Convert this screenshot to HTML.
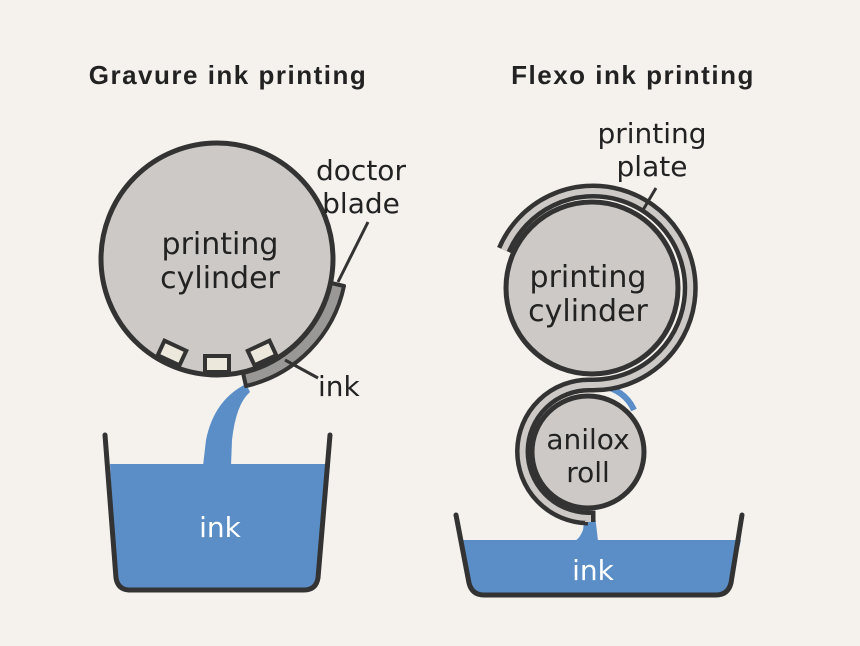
<!DOCTYPE html>
<html><head><meta charset="utf-8"><style>
html,body{margin:0;padding:0;background:#f5f2ee;}
svg{display:block;}
text{font-family:"DejaVu Sans","Liberation Sans",sans-serif;fill:#222;}
text.t{font-family:"Liberation Sans",sans-serif;font-weight:bold;}
</style></head><body>
<svg width="860" height="646" viewBox="0 0 860 646" xmlns="http://www.w3.org/2000/svg">
<rect width="860" height="646" fill="#f5f2ee"/>
<text class="t" x="228" y="84" text-anchor="middle" font-size="26" letter-spacing="1.5">Gravure ink printing</text>
<text class="t" x="633" y="84" text-anchor="middle" font-size="26" letter-spacing="1.5">Flexo ink printing</text>

<!-- left tank -->
<path d="M110 464 L330 464 L318 578 Q316 590 304 590 L128 590 Q118 590 116 578 Z" fill="#5b8ec7"/>
<path d="M246 384 Q214 400 206 440 L203 466 L231 466 L232 440 Q236 404 250 392 Z" fill="#5b8ec7"/>
<path d="M105 435 L116 578 Q118 590 130 590 L304 590 Q316 590 318 578 L330 435" fill="none" stroke="#333" stroke-width="5" stroke-linecap="round"/>
<text x="220" y="537" text-anchor="middle" font-size="28" style="fill:#fff">ink</text>

<!-- left cylinder -->
<circle cx="217" cy="259" r="116" fill="#ccc9c6" stroke="#333" stroke-width="5"/>
<g fill="#ede8dc" stroke="#333" stroke-width="4">
<rect x="160" y="345" width="24" height="16" transform="rotate(25 172 353)"/>
<rect x="205" y="356" width="24" height="16"/>
<rect x="250" y="345" width="24" height="16" transform="rotate(-25 262 353)"/>
</g>
<path d="M344 286 A130 130 0 0 1 246 386 L243 373 A117 117 0 0 0 331 283 Z" fill="#999896" stroke="#333" stroke-width="4" stroke-linejoin="round"/>
<text x="220" y="254" text-anchor="middle" font-size="30">printing</text>
<text x="220" y="288" text-anchor="middle" font-size="30">cylinder</text>
<text x="361" y="180" text-anchor="middle" font-size="28">doctor</text>
<text x="361" y="213" text-anchor="middle" font-size="28">blade</text>
<line x1="368" y1="222" x2="338" y2="282" stroke="#333" stroke-width="3"/>
<line x1="285" y1="360" x2="318" y2="378" stroke="#333" stroke-width="3"/>
<text x="318" y="396" font-size="28">ink</text>

<!-- right tank -->
<path d="M459 540 L741 540 L731 583 Q728 595 716 595 L484 595 Q472 595 469 583 Z" fill="#5b8ec7"/>
<path d="M585 515 L583 530 Q580 538 575 541 L598 541 L595 515 Z" fill="#5b8ec7"/>
<path d="M456 515 L469 583 Q472 595 484 595 L716 595 Q728 595 731 583 L742 515" fill="none" stroke="#333" stroke-width="5" stroke-linecap="round"/>
<text x="593" y="580" text-anchor="middle" font-size="28" style="fill:#fff">ink</text>

<!-- blue bit -->
<path d="M600 385 Q625 390 634 410" fill="none" stroke="#5b8ec7" stroke-width="6"/>

<!-- plate -->
<g fill="none">
<path d="M504 250 A97 97 0 1 1 592 385 L590 385 A66 66 0 0 0 588 518 L588 522" stroke="#333" stroke-width="15"/>
<path d="M504 250 A97 97 0 1 1 592 385 L590 385 A66 66 0 0 0 588 518 L588 522" stroke="#ccc9c6" stroke-width="6"/>
</g>
<circle cx="592" cy="288" r="86" fill="#ccc9c6" stroke="#333" stroke-width="5"/>
<circle cx="588" cy="452" r="56" fill="#ccc9c6" stroke="#333" stroke-width="5"/>
<text x="588" y="287" text-anchor="middle" font-size="30">printing</text>
<text x="588" y="321" text-anchor="middle" font-size="30">cylinder</text>
<text x="588" y="449" text-anchor="middle" font-size="28">anilox</text>
<text x="588" y="482" text-anchor="middle" font-size="28">roll</text>
<text x="652" y="143" text-anchor="middle" font-size="28">printing</text>
<text x="652" y="176" text-anchor="middle" font-size="28">plate</text>
<line x1="656" y1="188" x2="643" y2="210" stroke="#333" stroke-width="3"/>
</svg>
</body></html>
